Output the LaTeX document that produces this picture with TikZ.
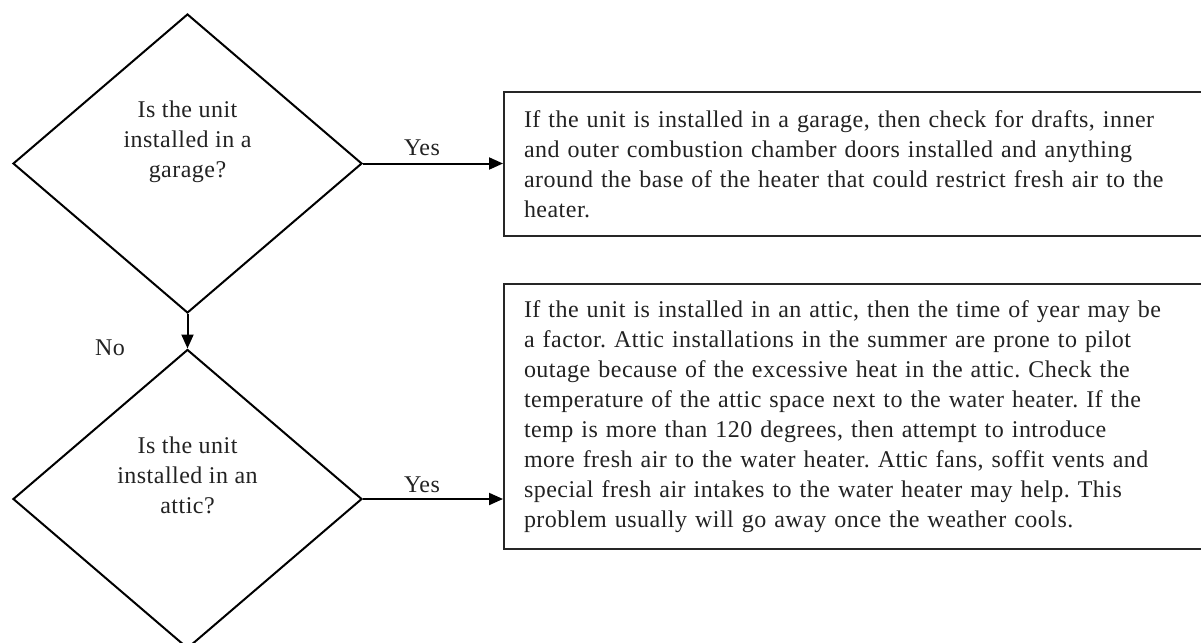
\documentclass[tikz,border=0pt]{standalone}
\usepackage{fontspec}
\setmainfont{Liberation Serif}[LetterSpace=2]
\usetikzlibrary{shapes.geometric,arrows.meta}
\definecolor{ink}{HTML}{222222}
\frenchspacing
\begin{document}
\begin{tikzpicture}[x=1pt,y=-1pt,
  every node/.style={font=\fontsize{24}{30}\selectfont, text=ink},
  decision/.style={draw=black, line width=2pt, diamond, minimum width=349pt, minimum height=299pt, inner sep=0pt},
  qtext/.style={align=center, inner sep=0pt},
  infobox/.style={draw=black!85, line width=2pt, rectangle, anchor=north west, text width=672pt, inner xsep=20pt, inner ysep=0pt, align=left},
  lbl/.style={anchor=base, inner sep=0pt},
  flow/.style={draw=black, line width=2pt, -{Triangle[length=14pt,width=12pt]}}
]
\useasboundingbox (0,0) rectangle (1201,642);
\clip (0,0) rectangle (1201,642);

\node[decision] (d1) at (187.5,163.5) {};
\node[qtext] (q1) at (187.5,142) {Is the unit\\installed in a\\garage?};
\node[decision] (d2) at (187.5,499) {};
\node[qtext] (q2) at (187.5,475) {Is the unit\\installed in an\\attic?};

\node[infobox, minimum height=144pt] (b1) at (503,91) {If the unit is installed in a garage, then check for drafts, inner\\
and outer combustion chamber doors installed and anything\\
around the base of the heater that could restrict fresh air to the\\
heater.};

\node[infobox, minimum height=265pt] (b2) at (503,283) {If the unit is installed in an attic, then the time of year may be\\
a factor. Attic installations in the summer are prone to pilot\\
outage because of the excessive heat in the attic. Check the\\
temperature of the attic space next to the water heater. If the\\
temp is more than 120 degrees, then attempt to introduce\\
more fresh air to the water heater. Attic fans, soffit vents and\\
special fresh air intakes to the water heater may help. This\\
problem usually will go away once the weather cools.};

\draw[flow] (d1.east) -- (d1.east -| b1.west);
\draw[flow] (d2.east) -- (d2.east -| b2.west);
\draw[flow] (d1.south) -- (d2.north);

\node[lbl] (yes1) at (422,155) {Yes};
\node[lbl] (yes2) at (422,492) {Yes};
\node[lbl] (no) at (110,355) {No};
\end{tikzpicture}
\end{document}
